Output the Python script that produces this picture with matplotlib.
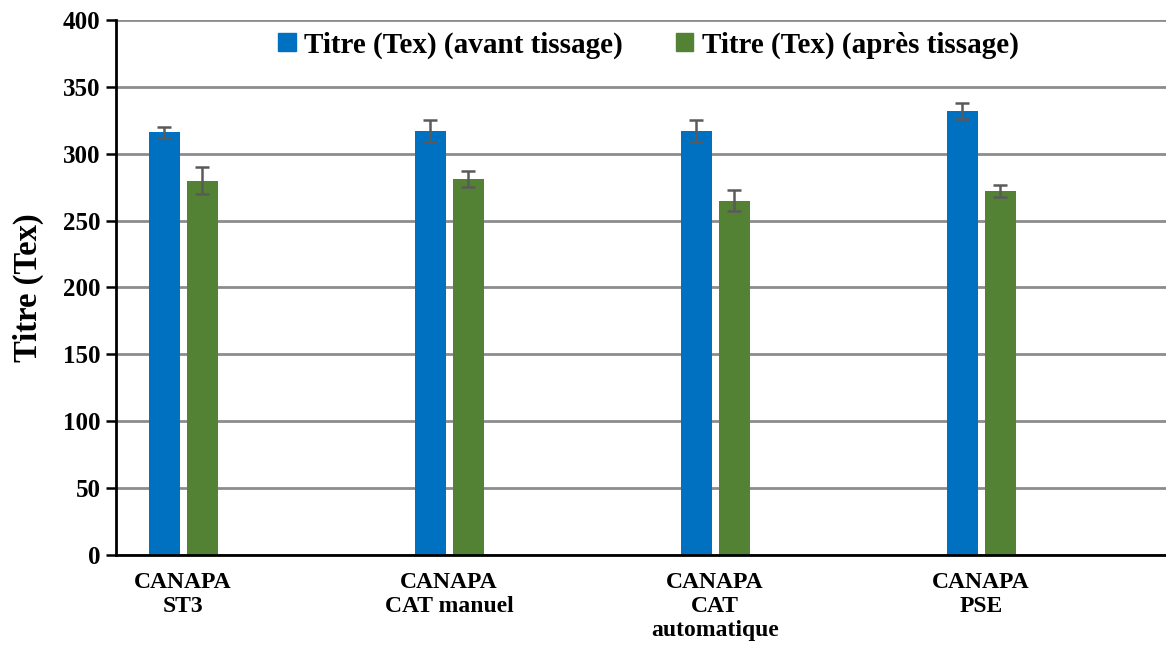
import numpy as np
import matplotlib.pyplot as plt
from matplotlib.patches import Patch

categories = ['CANAPA\nST3', 'CANAPA\nCAT manuel', 'CANAPA\nCAT\nautomatique', 'CANAPA\nPSE']
avant = [316, 317, 317, 332]
avant_err = [4, 8, 8, 6]
apres = [280, 281, 265, 272]
apres_err = [10, 6, 8, 4.5]

plt.rcParams['font.family'] = ['Liberation Serif', 'DejaVu Serif']
plt.rcParams['font.weight'] = 'bold'

fig = plt.figure(figsize=(11.66, 6.52), dpi=100)
ax = fig.add_axes([0.0995, 0.1488, 0.9005, 0.8205])

x = np.arange(len(categories))
w = 0.1165
off = 0.0714
err_kw = dict(ecolor='#5a5a5a', elinewidth=1.8, capsize=5, capthick=1.8)
ax.bar(x - off, avant, w, yerr=avant_err, color='#0070C0', error_kw=err_kw, zorder=3)
ax.bar(x + off, apres, w, yerr=apres_err, color='#548235', error_kw=err_kw, zorder=3)

ax.set_ylim(0, 400)
ax.set_yticks(range(0, 401, 50))
ax.set_xlim(-0.252, 3.695)
ax.set_xticks(x)
ax.set_xticklabels(categories, fontsize=17, fontweight='bold', linespacing=1.2)
ax.tick_params(axis='x', length=0, pad=12)
ax.tick_params(axis='y', labelsize=18, length=7, width=1.8, direction='out', pad=4)
for lab in ax.get_yticklabels():
    lab.set_fontweight('bold')

ax.grid(axis='y', color='#8c8c8c', linewidth=2, zorder=0)
for s in ['top', 'right']:
    ax.spines[s].set_visible(False)
for s in ['left', 'bottom']:
    ax.spines[s].set_linewidth(2)
    ax.spines[s].set_zorder(4)

ax.set_ylabel('Titre (Tex)', fontsize=23.5, fontweight='bold', labelpad=14)

handles = [Patch(color='#0070C0'), Patch(color='#548235')]
ax.legend(handles, ['Titre (Tex) (avant tissage)', 'Titre (Tex) (après tissage)'],
          loc='center', bbox_to_anchor=(0.507, 0.953), ncol=2, frameon=True,
          facecolor='white', edgecolor='none', framealpha=1,
          prop={'size': 21, 'weight': 'bold'}, handlelength=0.6, handleheight=0.6,
          columnspacing=1.8, handletextpad=0.3, borderpad=0.2)

fig.savefig('out.png', dpi=100)
